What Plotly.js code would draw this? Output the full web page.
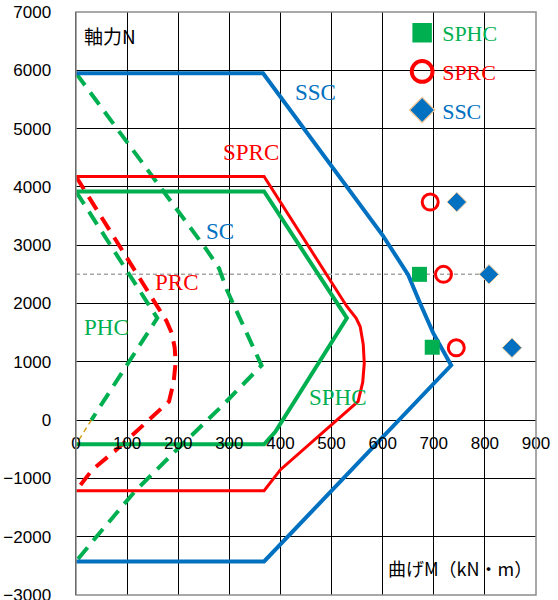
<!DOCTYPE html>
<html><head><meta charset="utf-8">
<script src="https://cdn.plot.ly/plotly-3.0.1.min.js"></script>
<style>html,body{margin:0;padding:0;background:#fff}</style>
</head><body><div id="chart" style="width:558px;height:600px"></div>
<script>
// Interaction curves (M, N)
var sscM = [0, 366, 600, 635, 650, 673, 699, 734, 368, 0];
var sscN = [5950, 5950, 3170, 2700, 2490, 2007, 1492, 940, -2425, -2425];
var sprcM = [0, 368, 530, 548, 556, 562, 564, 561, 552, 400, 368, 0];
var sprcN = [4178, 4178, 1949, 1750, 1606, 1300, 977, 650, 319, -850, -1212, -1212];
var sphcM = [0, 368, 530, 390, 368, 0];
var sphcN = [3921, 3921, 1750, -200, -415, -415];
var scM = [0, 255, 280, 295, 363, 288, 197, 115, 40, 0];
var scN = [5950, 2930, 2600, 2235, 940, 262, -509, -1224, -2000, -2425];
var prcM = [0, 160, 177, 187, 193, 195, 191, 182, 135, 79, 32, 0];
var prcN = [4178, 1950, 1700, 1500, 1250, 1000, 650, 320, -51, -509, -850, -1212];
var phcM = [0, 159, 30];
var phcN = [3921, 1750, 0];
var phcTailM = [30, 0];
var phcTailN = [0, -415];
var refM = [0, 810];
var refN = [2500, 2500];
// Test points
var ptSPHC_M = [672, 697];
var ptSPHC_N = [2500, 1250];
var ptSPRC_M = [693, 719, 744];
var ptSPRC_N = [3740, 2500, 1240];
var ptSSC_M = [745, 808, 853];
var ptSSC_N = [3740, 2500, 1240];
// Ticks
var xTicks = [0, 100, 200, 300, 400, 500, 600, 700, 800, 900];
var yTicks = [-3000, -2000, -1000, 0, 1000, 2000, 3000, 4000, 5000, 6000, 7000];
// Curve labels
var lblText = ['SSC', 'SPRC', 'SC', 'PRC', 'PHC', 'SPHC'];
var lblM = [468, 343, 282, 197, 60, 513];
var lblN = [5614, 4590, 3235, 2360, 1595, 394];
var lblColor = ['#0070C0', '#FF0000', '#0070C0', '#FF0000', '#00B050', '#00B050'];

var GREEN = '#00B050', RED = '#FF0000', BLUE = '#0070C0';
var DASH = '15px,9px';
function line(x, y, color, width, dash) {
  return {x: x, y: y, type: 'scatter', mode: 'lines', showlegend: false, hoverinfo: 'skip',
    line: {color: color, width: width, dash: dash || 'solid'}};
}
var traces = [
  line(refM, refN, '#A6A6A6', 1.5, '4px,3px'),
  line(scM, scN, GREEN, 4, DASH),
  line(phcM, phcN, GREEN, 4, DASH),
  line(phcTailM, phcTailN, '#D4A017', 1.5, '5px,4px'),
  line(prcM, prcN, RED, 4, DASH),
  line(sphcM, sphcN, GREEN, 4),
  line(sprcM, sprcN, RED, 3),
  line(sscM, sscN, BLUE, 4),
  {x: ptSPHC_M, y: ptSPHC_N, type: 'scatter', mode: 'markers', name: 'SPHC', legendgroup: 'a',
   marker: {symbol: 'square', size: 15, color: GREEN}},
  {x: ptSPRC_M, y: ptSPRC_N, type: 'scatter', mode: 'markers', name: 'SPRC', legendgroup: 'b',
   marker: {symbol: 'circle-open', size: 16, color: RED, line: {width: 3, color: RED}}},
  {x: ptSSC_M, y: ptSSC_N, type: 'scatter', mode: 'markers', name: 'SSC', legendgroup: 'c',
   marker: {symbol: 'diamond', size: 15, color: BLUE, line: {width: 1, color: '#F4C99A'}}}
];

var annotations = lblText.map(function (t, i) {
  return {x: lblM[i], y: lblN[i], xref: 'x', yref: 'y', text: t, showarrow: false,
    font: {family: 'Liberation Serif, serif', size: 23, color: lblColor[i]}};
});
annotations.push({xref: 'paper', yref: 'paper', x: 0.012, y: 0.959, xanchor: 'left', yanchor: 'middle',
  text: '軸力N', showarrow: false, font: {family: 'Noto Sans CJK JP', size: 19, color: '#000'}});
annotations.push({xref: 'paper', yref: 'paper', x: 0.996, y: 0.046, xanchor: 'right', yanchor: 'middle',
  text: '曲げM（kN・m）', showarrow: false, font: {family: 'Noto Sans CJK JP', size: 18, color: '#000'}});

var layout = {
  width: 558, height: 600,
  margin: {l: 76, r: 22, t: 12, b: 5, pad: 0},
  paper_bgcolor: '#fff', plot_bgcolor: '#fff',
  font: {family: 'Liberation Sans, Arial, sans-serif', size: 17, color: '#000'},
  xaxis: {range: [0, 900], tickvals: xTicks, ticktext: xTicks.map(String), anchor: 'free', position: 0.3,
    showgrid: true, gridcolor: '#000', gridwidth: 1, zeroline: false, showline: false,
    ticks: '', ticklabelstandoff: 11, tickfont: {size: 17}, fixedrange: true},
  yaxis: {range: [-3000, 7000], tickvals: yTicks, showgrid: true, gridcolor: '#000', gridwidth: 1,
    zeroline: true, zerolinecolor: '#000', zerolinewidth: 1, showline: true, linecolor: '#000', linewidth: 1.5,
    ticks: '', ticklabelstandoff: 20, ticklabeloverflow: 'allow', tickfont: {size: 17}, fixedrange: true},
  showlegend: true,
  legend: {x: 0.709, y: 1.0, xanchor: 'left', yanchor: 'top', bgcolor: 'rgba(0,0,0,0)',
    font: {family: 'Liberation Serif, serif', size: 22}, itemsizing: 'trace', tracegroupgap: 7,
    traceorder: 'grouped'},
  annotations: annotations,
  shapes: [{type: 'rect', xref: 'paper', yref: 'paper', x0: 0, x1: 1, y0: 0, y1: 1,
    line: {color: '#8C8C8C', width: 1.5}, layer: 'above'}]
};
Plotly.newPlot('chart', traces, layout, {displayModeBar: false, staticPlot: true}).then(function () {
  // Colour legend texts like their markers and enlarge legend symbols
  var cols = [GREEN, RED, BLUE];
  document.querySelectorAll('.legend .traces').forEach(function (tr, i) {
    var t = tr.querySelector('.legendtext');
    if (t) t.style.fill = cols[i];
    tr.querySelectorAll('.legendpoints path').forEach(function (p) {
      var tf = p.getAttribute('transform') || '';
      p.setAttribute('transform', tf + ' scale(1.3)');
    });
  });
});
</script></body></html>
